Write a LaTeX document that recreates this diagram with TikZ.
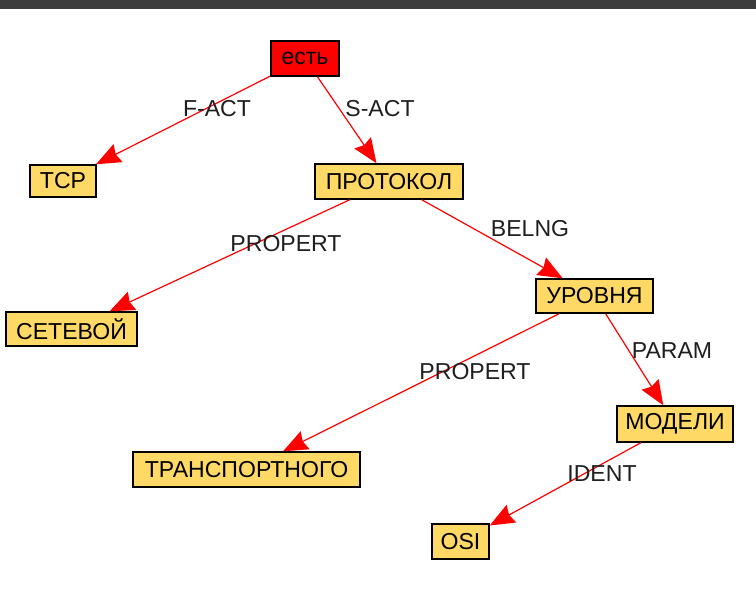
\documentclass[tikz,border=0pt]{standalone}
\usepackage{fontspec}
\setmainfont{Liberation Sans}
\usetikzlibrary{arrows.meta}
\definecolor{conceptfill}{HTML}{FFD966}
\definecolor{rootfill}{HTML}{FF0000}
\definecolor{linkred}{HTML}{FF0000}
\definecolor{barcolor}{HTML}{3C3C3C}
\begin{document}
\begin{tikzpicture}[x=0.75pt,y=-0.75pt,
  every node/.style={font=\fontsize{17.3pt}{19pt}\selectfont, inner sep=0pt},
  concept/.style={draw=black, line width=1.1pt, fill=conceptfill, rectangle},
  root/.style={concept, fill=rootfill},
  relation/.style={draw=linkred, line width=0.9pt,
    -{Stealth[length=18.5pt, width=15pt, inset=2pt]}},
  rellabel/.style={text=black!88}]
  % canvas and top bar
  \useasboundingbox (0,0) rectangle (756,596);
  \fill[white] (0,0) rectangle (756,596);
  \fill[barcolor] (0,0) rectangle (756,9);

  % concepts
  \node[root,    minimum width=68*0.75pt,  minimum height=35*0.75pt] (est)  at (305,58.5) {есть};
  \node[concept, minimum width=66*0.75pt,  minimum height=32*0.75pt] (tcp)  at (63,181) {TCP};
  \node[concept, minimum width=148*0.75pt, minimum height=35*0.75pt] (prot) at (389,181.5) {ПРОТОКОЛ};
  \node[concept, minimum width=131*0.75pt, minimum height=34*0.75pt] (set)  at (71.5,329) {СЕТЕВОЙ};
  \node[concept, minimum width=117*0.75pt, minimum height=34*0.75pt] (urov) at (594.5,296) {УРОВНЯ};
  \node[concept, minimum width=116*0.75pt, minimum height=36*0.75pt] (mod)  at (675,424) {МОДЕЛИ};
  \node[concept, minimum width=227*0.75pt, minimum height=35*0.75pt] (trans) at (246.5,469.5) {ТРАНСПОРТНОГО};
  \node[concept, minimum width=57*0.75pt,  minimum height=35*0.75pt] (osi)  at (460.5,541.5) {OSI};

  % relations
  \draw[relation] (est)  -- (tcp);
  \draw[relation] (est)  -- (prot);
  \draw[relation] (prot) -- (set);
  \draw[relation] (prot) -- (urov);
  \draw[relation] (urov) -- (trans);
  \draw[relation] (urov) -- (mod);
  \draw[relation] (mod)  -- (osi);

  % relation labels
  \node[rellabel] (l1) at (217,109) {F-ACT};
  \node[rellabel] (l2) at (380,109) {S-ACT};
  \node[rellabel] (l3) at (286,244) {PROPERT};
  \node[rellabel] (l4) at (530,229) {BELNG};
  \node[rellabel] (l5) at (475,372) {PROPERT};
  \node[rellabel] (l6) at (672,351) {PARAM};
  \node[rellabel] (l7) at (602,474) {IDENT};
\end{tikzpicture}
\end{document}
